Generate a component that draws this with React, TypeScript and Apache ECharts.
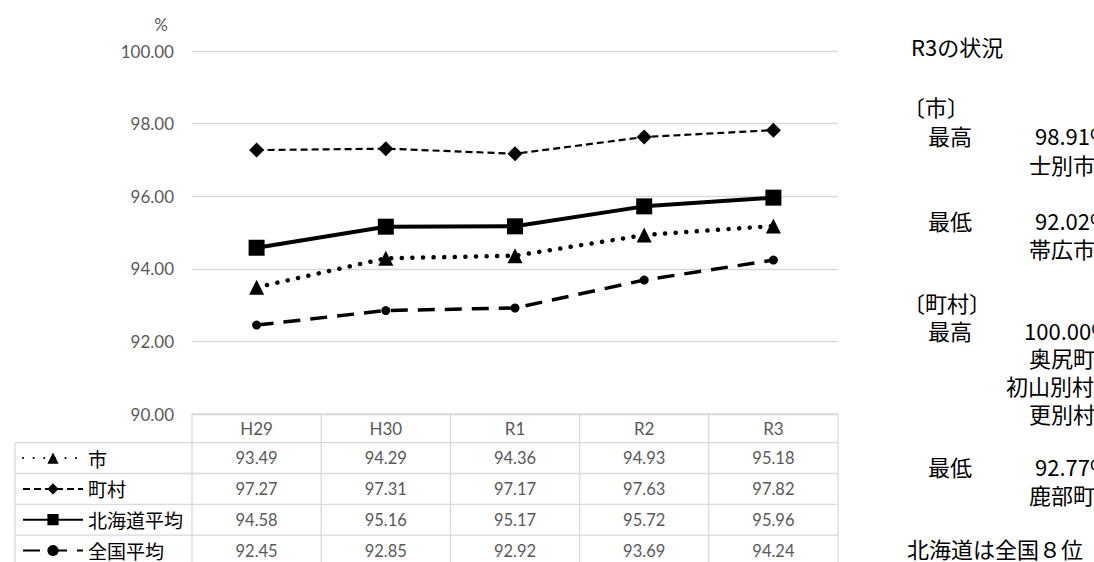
import { useEffect, useRef } from "react";
import * as echarts from "echarts";

// Collection rates (%) by fiscal year
const categories = ["H29", "H30", "R1", "R2", "R3"];
const seriesNames = ["市", "町村", "北海道平均", "全国平均"];
const shiRates = [93.49, 94.29, 94.36, 94.93, 95.18];
const chosonRates = [97.27, 97.31, 97.17, 97.63, 97.82];
const hokkaidoRates = [94.58, 95.16, 95.17, 95.72, 95.96];
const zenkokuRates = [92.45, 92.85, 92.92, 93.69, 94.24];

const yMin = 90;
const yMax = 100;
const yStep = 2;

// R3 summary panel
const summaryTitle = "R3の状況";
const cityHeading = "〔市〕";
const townHeading = "〔町村〕";
const highLabel = "最高";
const lowLabel = "最低";
const cityHighRate = 98.91;
const cityHighNames = ["士別市"];
const cityLowRate = 92.02;
const cityLowNames = ["帯広市"];
const townHighRate = 100.0;
const townHighNames = ["奥尻町", "初山別村", "更別村"];
const townLowRate = 92.77;
const townLowNames = ["鹿部町"];
const rankNote = "北海道は全国８位";

const W = 1094;
const H = 562;
const plotLeft = 192;
const plotRight = 838;
const plotTop = 51;
const plotBottom = 414;
const tableLeft = 15;
const headerH = 28.7;
const rowH = 30.8;

const GRID = "#d9d9d9";
const GRAY = "#595959";
const NUM_FONT = "Lato, 'Liberation Sans', sans-serif";
const JP_FONT = "'Noto Sans CJK JP', 'Noto Sans', sans-serif";

const seriesData = [shiRates, chosonRates, hokkaidoRates, zenkokuRates];
const firstRowTop = plotBottom + headerH;

function buildTable(): any[] {
  const els: any[] = [];
  const colW = (plotRight - plotLeft) / categories.length;
  const rowTops = [firstRowTop];
  for (let i = 1; i <= seriesNames.length; i++) rowTops.push(firstRowTop + i * rowH);
  const line = (x1: number, y1: number, x2: number, y2: number) => ({
    type: "line",
    silent: true,
    shape: { x1, y1, x2, y2 },
    style: { stroke: GRID, lineWidth: 1.3 },
  });
  // table frame
  els.push(line(plotLeft, plotBottom, plotRight, plotBottom));
  rowTops.forEach((y) => els.push(line(tableLeft, y, plotRight, y)));
  els.push(line(tableLeft, rowTops[0], tableLeft, H + 10));
  for (let i = 0; i <= categories.length; i++) {
    const x = plotLeft + i * colW;
    els.push(line(x, plotBottom, x, H + 10));
  }
  // header row
  categories.forEach((c, i) => {
    els.push({
      type: "text",
      silent: true,
      x: plotLeft + (i + 0.5) * colW,
      y: plotBottom + headerH / 2,
      style: { text: c, fill: GRAY, fontSize: 17, fontFamily: NUM_FONT, align: "center", verticalAlign: "middle" },
    });
  });
  // value rows
  seriesData.forEach((vals, r) => {
    const cy = rowTops[r] + rowH / 2;
    vals.forEach((v, i) => {
      els.push({
        type: "text",
        silent: true,
        x: plotLeft + (i + 0.5) * colW,
        y: cy,
        style: { text: v.toFixed(2), fill: GRAY, fontSize: 16.5, fontFamily: NUM_FONT, align: "center", verticalAlign: "middle" },
      });
    });
  });
  return els;
}

function buildSummary(): any[] {
  const els: any[] = [];
  const t = (text: string, x: number, y: number) =>
    els.push({
      type: "text",
      silent: true,
      x,
      y,
      style: {
        text,
        fill: "#000",
        fontSize: 22,
        lineHeight: 22,
        fontFamily: JP_FONT,
        align: "left",
        verticalAlign: "middle",
      },
    });
  const pitch = 28.2;
  const rateX = 1035;
  const namesX = (n: string) => 1098 - n.length * 23;

  t(summaryTitle, 911, 46);
  t(cityHeading, 903, 106);
  t(highLabel, 928, 135);
  t(cityHighRate.toFixed(2) + "%", rateX, 135);
  cityHighNames.forEach((n, i) => t(n, namesX(n), 164 + i * pitch));
  t(lowLabel, 928, 220);
  t(cityLowRate.toFixed(2) + "%", rateX, 220);
  cityLowNames.forEach((n, i) => t(n, namesX(n), 248 + i * pitch));

  t(townHeading, 903, 302);
  t(highLabel, 928, 330);
  t(townHighRate.toFixed(2) + "%", 1024, 330);
  townHighNames.forEach((n, i) => t(n, namesX(n), 357 + i * pitch));
  t(lowLabel, 928, 466);
  t(townLowRate.toFixed(2) + "%", rateX, 466);
  townLowNames.forEach((n, i) => t(n, namesX(n), 494 + i * pitch));

  t(rankNote, 907, 548);
  return els;
}

export default function App() {
  const ref = useRef<HTMLDivElement>(null);

  useEffect(() => {
    if (!ref.current) return;
    const chart = echarts.init(ref.current, null, { renderer: "svg" });

    const lineSeries = (
      name: string,
      data: number[],
      lineStyle: any,
      symbol: string,
      symbolSize: number
    ) => ({
      name,
      type: "line",
      data,
      symbol,
      symbolSize,
      showSymbol: true,
      lineStyle: { color: "#000", ...lineStyle },
      itemStyle: { color: "#000", borderWidth: 0 },
      emphasis: { disabled: true },
    });

    // one legend per table row, so each sits in its own cell
    const legends = seriesNames.map((name, r) => ({
      data: [name],
      orient: "vertical",
      left: 22,
      top: firstRowTop + r * rowH + rowH / 2 - 10,
      padding: 0,
      itemWidth: 60,
      itemHeight: 14,
      selectedMode: false,
      textStyle: { color: "#000", fontSize: 19, fontFamily: JP_FONT, lineHeight: 20 },
    }));

    chart.setOption({
      animation: false,
      backgroundColor: "#fff",
      grid: {
        left: plotLeft,
        right: W - plotRight,
        top: plotTop,
        bottom: H - plotBottom,
        containLabel: false,
      },
      xAxis: {
        type: "category",
        data: categories,
        boundaryGap: true,
        axisLine: { show: false },
        axisTick: { show: false },
        axisLabel: { show: false },
        splitLine: { show: false },
      },
      yAxis: {
        type: "value",
        min: yMin,
        max: yMax,
        interval: yStep,
        name: "%",
        nameLocation: "end",
        nameGap: 27,
        nameTextStyle: {
          color: GRAY,
          fontSize: 17,
          fontFamily: NUM_FONT,
          align: "right",
          verticalAlign: "middle",
          padding: [0, 24, 0, 0],
        },
        axisLine: { show: false },
        axisTick: { show: false },
        axisLabel: {
          formatter: (v: number) => v.toFixed(2),
          color: GRAY,
          fontSize: 17,
          fontFamily: NUM_FONT,
          margin: 18,
        },
        splitLine: { lineStyle: { color: GRID, width: 1.3 } },
      },
      legend: legends,
      series: [
        lineSeries(seriesNames[0], shiRates, { width: 4.5, type: [0.1, 10.5], cap: "round" }, "triangle", 15),
        lineSeries(seriesNames[1], chosonRates, { width: 2.2, type: [7, 4] }, "diamond", 15),
        lineSeries(seriesNames[2], hokkaidoRates, { width: 4 }, "rect", 16),
        lineSeries(seriesNames[3], zenkokuRates, { width: 3.5, type: [17, 10] }, "circle", 9),
      ],
      graphic: [...buildTable(), ...buildSummary()],
    });

    return () => chart.dispose();
  }, []);

  return (
    <div
      ref={ref}
      style={{ position: "fixed", left: 0, top: 0, width: W, height: H, background: "#fff" }}
    />
  );
}
